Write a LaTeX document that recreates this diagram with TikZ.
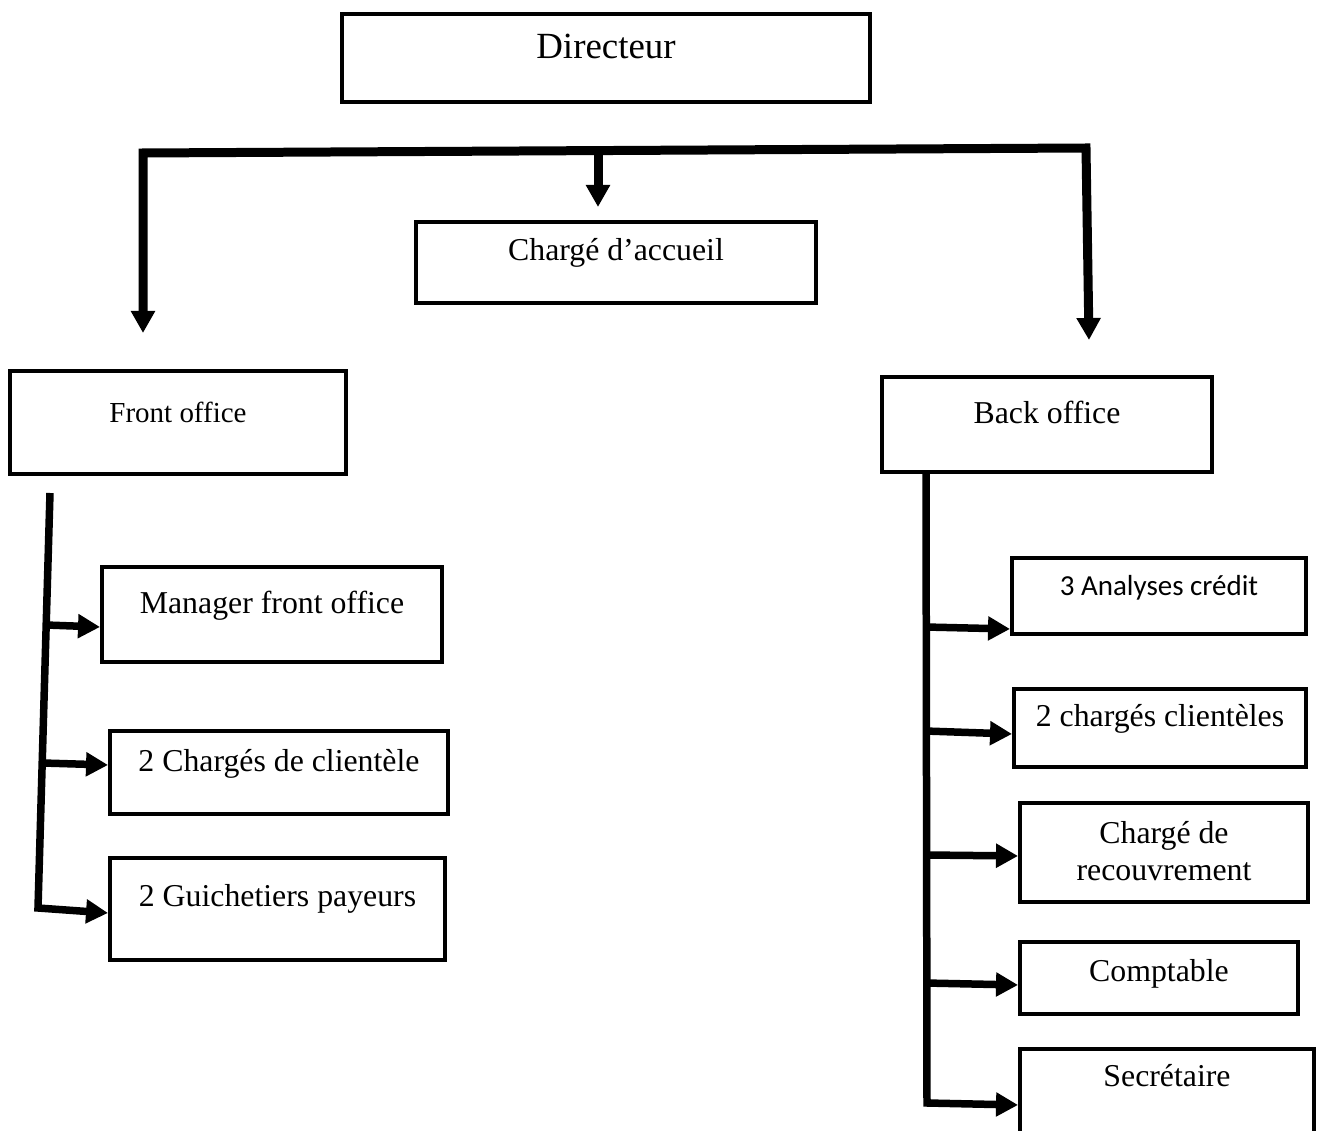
\documentclass[tikz,border=0pt]{standalone}
\usepackage{fontspec}
\setmainfont{Liberation Serif}
\newfontfamily\calibri{Carlito}
\usetikzlibrary{arrows.meta}

\tikzset{
  box/.style={draw, line width=0.08cm, inner sep=0pt, anchor=north, align=center,
    font=\fontsize{18.1}{21.5}\selectfont},
  tree/.style={line width=0.18cm, line join=miter},
  side/.style={line width=0.15cm},
  arr/.style={-{Triangle[width=0.46cm,length=0.44cm]}}
}

\begin{document}
\begin{tikzpicture}[x=0.02cm, y=-0.02cm]
        \clip (0,0) rectangle (1323,1131);

        % direction
        \node[box, minimum width=10.56cm, text height=0.90cm, text depth=0.86cm,
              font=\fontsize{21}{25}\selectfont] (dir) at (606,12) {Directeur};
        \node[box, minimum width=8cm, text height=0.78cm, text depth=0.84cm] (acc) at (616,220) {Chargé d’accueil};
        \node[box, minimum width=6.72cm, text height=1.04cm, text depth=1.02cm,
              font=\fontsize{16.5}{20}\selectfont] (front) at (178,369) {Front office};
        \node[box, minimum width=6.60cm, text height=0.94cm, text depth=0.96cm] (back) at (1047,375) {Back office};

        \coordinate (busL) at (143,153);
        \coordinate (busM) at (598,153);
        \coordinate (busR) at (1086,148);
        \coordinate (tipL) at (143,333);
        \coordinate (tipM) at (598,207);
        \coordinate (tipR) at (1089,340);

        \draw[tree, {Triangle[width=0.46cm,length=0.44cm]}-{Triangle[width=0.46cm,length=0.44cm]}]
            (tipL) -- (busL) -- (busR) -- (tipR);
        \draw[tree, arr] (busM) -- (tipM);

        % front office
        \node[box, minimum width=6.80cm, text height=0.94cm, text depth=0.96cm] (mgr) at (272,565) {Manager front office};
        \node[box, minimum width=6.76cm, text height=0.82cm, text depth=0.84cm] (cdc) at (279,729) {2 Chargés de clientèle};
        \node[box, minimum width=6.70cm, text height=0.98cm, text depth=1.06cm] (gui) at (277.5,856) {2 Guichetiers payeurs};

        \coordinate (fTop) at (50,493);
        \coordinate (fBot) at (38,908);
        \coordinate (fA) at (46,625);
        \coordinate (fB) at (43,763);

        \draw[side, arr] (fTop) -- (fBot) -- ([yshift=-0.08cm]gui.west);
        \draw[side, arr] (fA) -- ([yshift=-0.25cm]mgr.west);
        \draw[side, arr] (fB) -- ([yshift=0.15cm]cdc.west);

        % back office
        \node[box, minimum width=5.88cm, text height=0.76cm, text depth=0.76cm,
              font=\calibri\fontsize{16.5}{20}\selectfont] (ana) at (1159,556) {3 Analyses crédit};
        \node[box, minimum width=5.84cm, text height=0.76cm, text depth=0.80cm] (ccl) at (1160,687) {2 chargés clientèles};
        \node[box, minimum width=5.76cm, text height=1.56cm, text depth=0.42cm] (rec) at (1164,801) {Chargé de\\recouvrement};
        \node[box, minimum width=5.56cm, text height=0.80cm, text depth=0.64cm] (cpt) at (1159,940) {Comptable};
        \node[box, minimum width=5.88cm, text height=0.76cm, text depth=1.20cm] (sec) at (1167,1047) {Secrétaire};

        \coordinate (bBot) at (927,1103);
        \coordinate (bA) at (925,627);
        \coordinate (bB) at (925,731);
        \coordinate (bC) at (927,855);
        \coordinate (bD) at (925,983);

        \draw[side, arr] ([xshift=0.92cm]back.south west) -- (bBot) -- ([yshift=-0.14cm]sec.west);
        \draw[side, arr] (bA) -- ([yshift=-0.66cm]ana.west);
        \draw[side, arr] (bB) -- ([yshift=-0.12cm]ccl.west);
        \draw[side, arr] (bC) -- ([yshift=-0.07cm]rec.west);
        \draw[side, arr] (bD) -- ([yshift=-0.14cm]cpt.west);

    \end{tikzpicture}
\end{document}
